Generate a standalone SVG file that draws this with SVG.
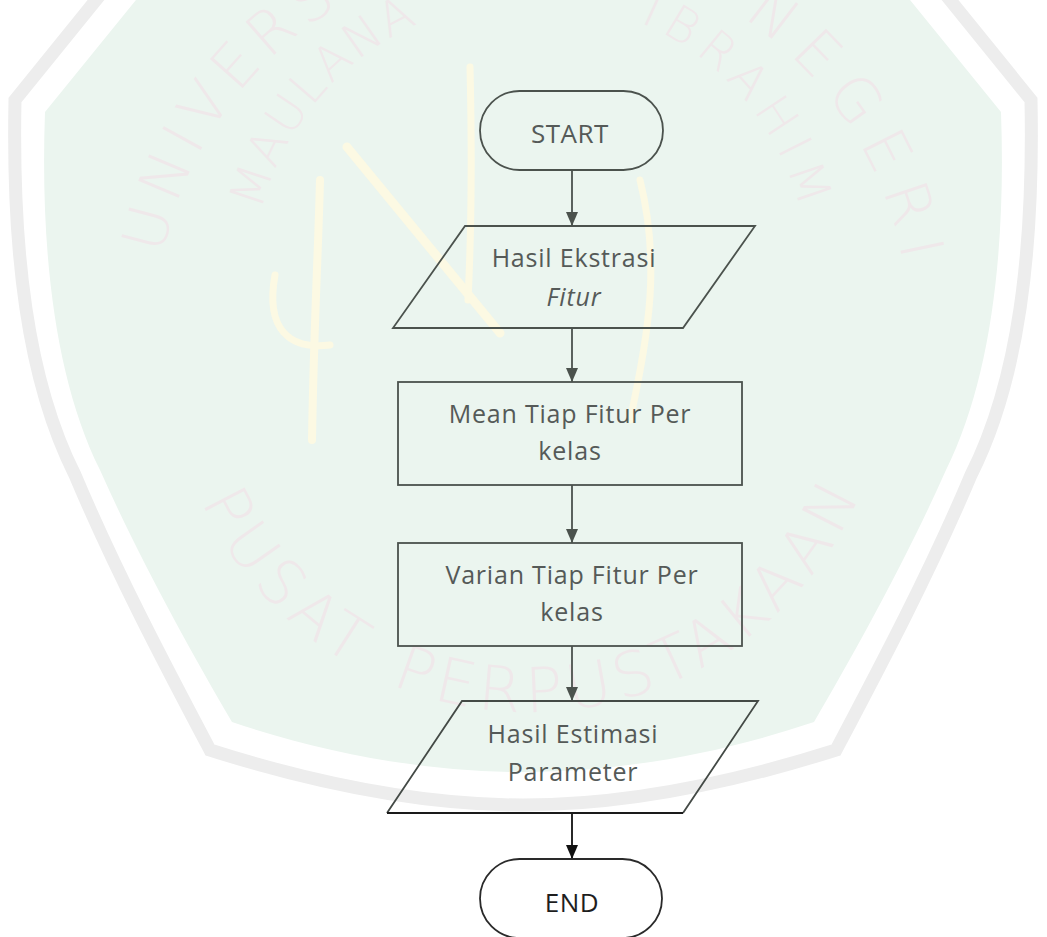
<svg xmlns="http://www.w3.org/2000/svg" width="1047" height="937" viewBox="0 0 1047 937">
  <defs>
    <style>
      .node { fill: none; stroke: #4b524d; stroke-width: 1.8; }
      .nodeDark { fill: none; stroke: #2a2a2a; stroke-width: 1.8; }
      .lbl { font-family: "Open Sans", "Liberation Sans", sans-serif; font-size: 25px; fill: #555a58; text-anchor: middle; letter-spacing: 0.8px; }
      .term { font-family: "Open Sans", "Liberation Sans", sans-serif; font-size: 26px; fill: #555a58; text-anchor: middle; letter-spacing: 0.5px; }
      .wm { font-family: "DejaVu Sans", "Liberation Sans", sans-serif; font-weight: 200; fill: #efe8ea; }
      .conn { stroke: #4b524d; stroke-width: 1.8; fill: none; }
      .cal { fill: none; stroke: #fcf9e3; stroke-linecap: round; }
    </style>
    <marker id="ah" viewBox="0 0 14 12" refX="14" refY="6" markerWidth="14" markerHeight="12" markerUnits="userSpaceOnUse" orient="auto">
      <path d="M0,0 L14,6 L0,12 Z" fill="#4b524d"/>
    </marker>
    <marker id="ahDark" viewBox="0 0 14 12" refX="14" refY="6" markerWidth="14" markerHeight="12" markerUnits="userSpaceOnUse" orient="auto">
      <path d="M0,0 L14,6 L0,12 Z" fill="#111111"/>
    </marker>
    <path id="arcU" d="M 162.6,254.8 A 377 377 0 0 1 489.3,-44.6"/>
    <path id="arcN" d="M 742.8,17.5 A 377 377 0 0 1 902.7,261.3"/>
    <path id="arcM" d="M 261.3,210.7 A 278 278 0 0 1 417.9,24.0"/>
    <path id="arcI" d="M 639.6,22.1 A 278 278 0 0 1 800.1,208.4"/>
    <path id="arcP1" d="M 201.4,501.3 A 360 360 0 0 0 351.7,665.3"/>
    <path id="arcP2" d="M 391.2,684.6 A 360 360 0 0 0 859.2,495.5"/>
  </defs>

  <rect width="1047" height="937" fill="#ffffff"/>

  <g id="watermark">
    <path d="M 100,-5 L 15,100 C 12,250 27,380 75,475 C 115,570 165,665 210,750 C 320,785 425,805 523,805 C 621,805 726,785 836,750 C 881,665 931,570 971,475 C 1019,380 1034,250 1031,100 L 946,-5" fill="none" stroke="#ededed" stroke-width="13"/>
    <path d="M 140,-5 L 45,112 C 40,250 55,380 100,470 C 140,560 190,650 232,722 C 330,755 430,772 523,772 C 616,772 716,755 814,722 C 856,650 906,560 946,470 C 991,380 1006,250 1001,112 L 906,-5 Z" fill="#ebf5ef"/>
    <g class="cal">
      <path d="M 320,180 C 318,260 314,320 312,440" stroke-width="8"/>
      <path d="M 275,275 C 265,330 290,350 330,345" stroke-width="7"/>
      <path d="M 347,147 L 500,333" stroke-width="9"/>
      <path d="M 470,67 C 472,150 472,220 468,300" stroke-width="7"/>
      <path d="M 640,180 C 660,260 650,330 630,420" stroke-width="7"/>
    </g>
    <text class="wm" font-size="60"><textPath href="#arcU" textLength="474" lengthAdjust="spacing">UNIVERSITAS</textPath></text>
    <text class="wm" font-size="60"><textPath href="#arcN" textLength="299" lengthAdjust="spacing">NEGERI</textPath></text>
    <text class="wm" font-size="48"><textPath href="#arcM" textLength="252" lengthAdjust="spacing">MAULANA</textPath></text>
    <text class="wm" font-size="48"><textPath href="#arcI" textLength="254" lengthAdjust="spacing">IBRAHIM</textPath></text>
    <text class="wm" font-size="62"><textPath href="#arcP1" textLength="226" lengthAdjust="spacing">PUSAT</textPath></text>
    <text class="wm" font-size="62"><textPath href="#arcP2" textLength="559" lengthAdjust="spacing">PERPUSTAKAAN</textPath></text>
  </g>

  <g id="connectors">
    <line class="conn" x1="572" y1="170" x2="572" y2="226" marker-end="url(#ah)"/>
    <line class="conn" x1="572" y1="328" x2="572" y2="382" marker-end="url(#ah)"/>
    <line class="conn" x1="572" y1="485" x2="572" y2="543" marker-end="url(#ah)"/>
    <line class="conn" x1="572" y1="646" x2="572" y2="701" marker-end="url(#ah)"/>
    <line x1="572" y1="813" x2="572" y2="859" stroke="#111111" stroke-width="1.8" marker-end="url(#ahDark)"/>
  </g>

  <g id="start">
    <rect class="node" x="480" y="91" width="183" height="79" rx="39.5" ry="39.5"/>
    <text class="term" x="570" y="143">START</text>
  </g>

  <g id="hasil-ekstrasi">
    <polygon class="node" points="465,226 755,226 683,328 393,328"/>
    <text class="lbl" x="574" y="267">Hasil Ekstrasi</text>
    <text class="lbl" x="574" y="306" font-style="italic">Fitur</text>
  </g>

  <g id="mean">
    <rect class="node" x="398" y="382" width="344" height="103"/>
    <text class="lbl" x="570" y="423">Mean Tiap Fitur Per</text>
    <text class="lbl" x="570" y="460">kelas</text>
  </g>

  <g id="varian">
    <rect class="node" x="398" y="543" width="344" height="103"/>
    <text class="lbl" x="572" y="584">Varian Tiap Fitur Per</text>
    <text class="lbl" x="572" y="621">kelas</text>
  </g>

  <g id="hasil-estimasi">
    <polyline points="387,813 462,701 758,701 683,813" fill="none" stroke="#444a46" stroke-width="1.8"/>
    <line x1="387" y1="813" x2="683" y2="813" stroke="#1a1a1a" stroke-width="2"/>
    <text class="lbl" x="573" y="743">Hasil Estimasi</text>
    <text class="lbl" x="573" y="781">Parameter</text>
  </g>

  <g id="end">
    <rect class="nodeDark" x="480" y="859" width="182" height="79" rx="39.5" ry="39.5"/>
    <text class="term" x="572" y="912" style="fill:#1e1e1e">END</text>
  </g>
</svg>
